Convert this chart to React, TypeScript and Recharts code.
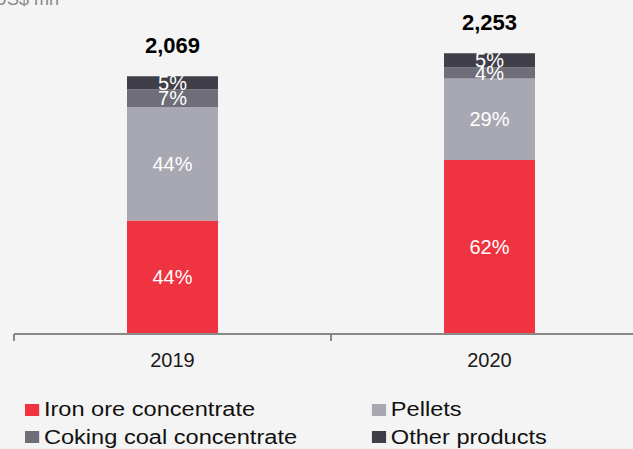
import { BarChart, Bar, XAxis, YAxis, LabelList } from 'recharts';

const years = ['2019', '2020'];
const totals = [2069, 2253];
const ironPct = [44, 62];
const pelletsPct = [44, 29];
const cokingPct = [7, 4];
const otherPct = [5, 5];

const COLORS = {
  iron: '#ef3340',
  pellets: '#a8a8b3',
  coking: '#6e6d78',
  other: '#403f49',
};

const FONT = '"Liberation Sans", Arial, sans-serif';
const CHART_W = 660;
const CHART_H = 449;
const MARGIN = { top: 35, right: 12, left: 14, bottom: 75 };
const BAND = (CHART_W - MARGIN.left - MARGIN.right) / years.length;

const data = years.map((year, i) => ({
  year,
  total: totals[i],
  iron: (totals[i] * ironPct[i]) / 100,
  pellets: (totals[i] * pelletsPct[i]) / 100,
  coking: (totals[i] * cokingPct[i]) / 100,
  other: (totals[i] * otherPct[i]) / 100,
  ironPct: ironPct[i],
  pelletsPct: pelletsPct[i],
  cokingPct: cokingPct[i],
  otherPct: otherPct[i],
}));

const legendItems = [
  { name: 'Iron ore concentrate', color: COLORS.iron },
  { name: 'Pellets', color: COLORS.pellets },
  { name: 'Coking coal concentrate', color: COLORS.coking },
  { name: 'Other products', color: COLORS.other },
];

// year label at band centre, tick mark on the band's left edge
function YearTick({ x, y, payload }: { x?: number; y?: number; payload?: { value: string } }) {
  if (x == null || y == null || !payload) return null;
  const edge = x - BAND / 2;
  return (
    <g>
      <line x1={edge} x2={edge} y1={y} y2={y + 7} stroke="#888" strokeWidth={2} />
      <text x={x} y={y + 33} textAnchor="middle" fontSize={20} fontFamily={FONT} fill="#1a1a1a">
        {payload.value}
      </text>
    </g>
  );
}

const pctLabel = (v: unknown) => `${v}%`;
const pctStyle = { fill: '#ffffff', fontSize: 20, fontFamily: FONT };

export default function App() {
  return (
    <div
      style={{
        position: 'absolute',
        left: 0,
        top: 0,
        width: 633,
        height: 449,
        overflow: 'hidden',
        background: '#f4f4f4',
      }}
    >
      <div
        style={{
          position: 'absolute',
          left: -6,
          top: -11,
          fontFamily: FONT,
          fontSize: 18,
          lineHeight: '20px',
          color: '#8a8a8a',
          whiteSpace: 'nowrap',
        }}
      >
        US$ mn
      </div>

      <BarChart width={CHART_W} height={CHART_H} data={data} margin={MARGIN}>
        <YAxis hide domain={[0, 2400]} />
        <XAxis
          dataKey="year"
          height={40}
          axisLine={{ stroke: '#888', strokeWidth: 2 }}
          tickLine={false}
          tickSize={0}
          tickMargin={0}
          tick={<YearTick />}
          interval={0}
        />
        <Bar dataKey="iron" stackId="a" fill={COLORS.iron} barSize={91} isAnimationActive={false}>
          <LabelList dataKey="ironPct" position="center" formatter={pctLabel} {...pctStyle} />
        </Bar>
        <Bar dataKey="pellets" stackId="a" fill={COLORS.pellets} barSize={91} isAnimationActive={false}>
          <LabelList dataKey="pelletsPct" position="center" formatter={pctLabel} {...pctStyle} />
        </Bar>
        <Bar dataKey="coking" stackId="a" fill={COLORS.coking} barSize={91} isAnimationActive={false}>
          <LabelList dataKey="cokingPct" position="center" formatter={pctLabel} {...pctStyle} />
        </Bar>
        <Bar dataKey="other" stackId="a" fill={COLORS.other} barSize={91} isAnimationActive={false}>
          <LabelList dataKey="otherPct" position="center" formatter={pctLabel} {...pctStyle} />
          <LabelList
            dataKey="total"
            position="top"
            offset={23}
            formatter={(v: unknown) => Number(v).toLocaleString('en-US')}
            fill="#000000"
            fontSize={22}
            fontWeight="bold"
            fontFamily={FONT}
          />
        </Bar>
      </BarChart>

      <div
        style={{
          position: 'absolute',
          left: 25,
          top: 396,
          transform: 'scaleX(1.18)',
          transformOrigin: '0 0',
          display: 'grid',
          gridTemplateColumns: '294px 200px',
          fontFamily: FONT,
          fontSize: 20,
          lineHeight: '27.5px',
          color: '#111',
          whiteSpace: 'nowrap',
        }}
      >
        {legendItems.map((item) => (
          <div key={item.name} style={{ display: 'flex', alignItems: 'center', height: 27.5 }}>
            <span style={{ width: 12, height: 12, background: item.color, marginRight: 4, flex: 'none' }} />
            <span>{item.name}</span>
          </div>
        ))}
      </div>
    </div>
  );
}
